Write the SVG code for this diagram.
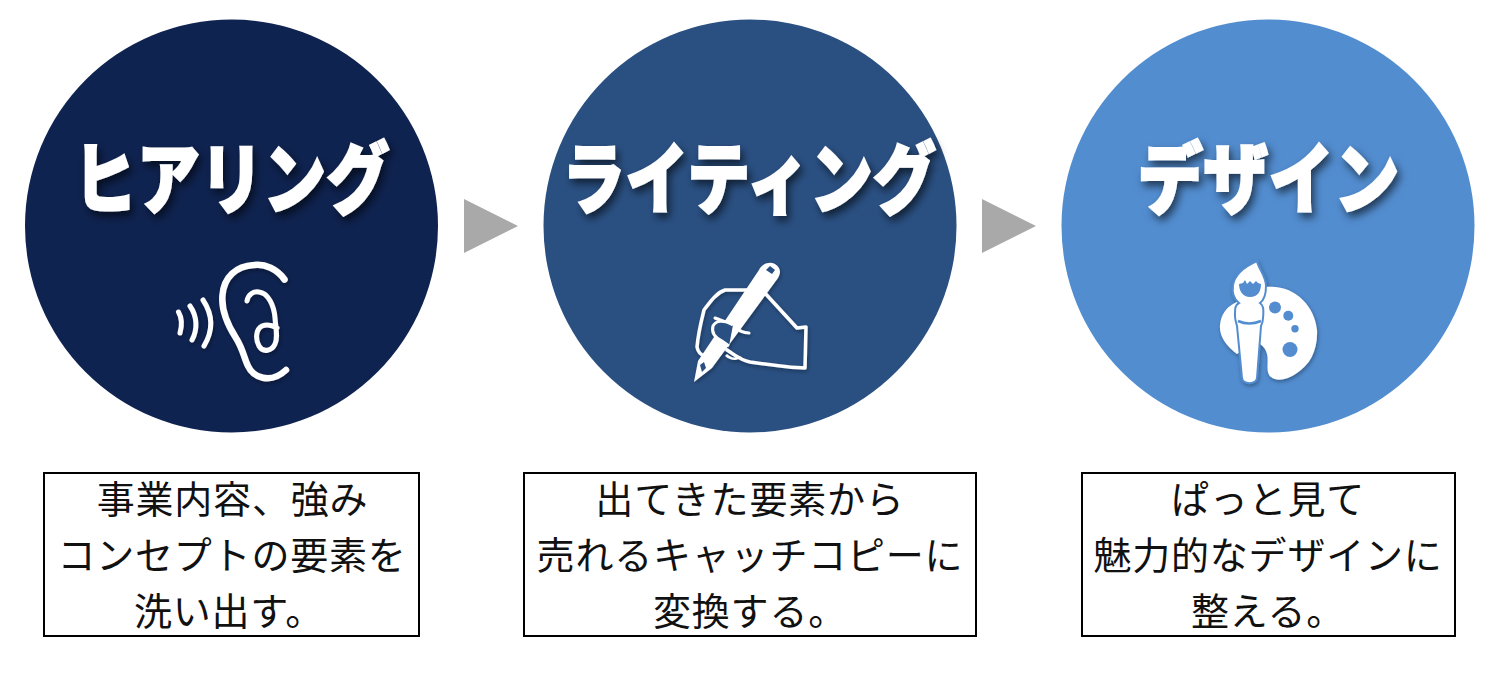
<svg xmlns="http://www.w3.org/2000/svg" width="1500" height="681" viewBox="0 0 1500 681">
<style>
.title{font-family:"Noto Sans CJK JP","Noto Sans",sans-serif;font-weight:900;font-size:78px;fill:#fff;text-anchor:middle;stroke:#fff;stroke-width:2px}
.body{font-family:"Noto Sans CJK JP","Noto Sans",sans-serif;font-weight:400;font-size:38px;letter-spacing:.8px;fill:#111;text-anchor:middle}
.box{fill:#fff;stroke:#000;stroke-width:2}
.tri{fill:#a9a9a9}
.ln{fill:none;stroke:#fff;stroke-linecap:round;stroke-linejoin:round}
</style>
<defs>
<filter id="sh" x="-20%" y="-20%" width="140%" height="150%"><feDropShadow dx="3" dy="5" stdDeviation="4" flood-color="#000" flood-opacity="0.6"/></filter>
<filter id="sh2" x="-20%" y="-20%" width="140%" height="140%"><feDropShadow dx="1" dy="2" stdDeviation="2" flood-color="#000" flood-opacity="0.35"/></filter>
</defs>
<g id="connectors">
<polygon class="tri" points="464,199 518,226 464,253"/>
<polygon class="tri" points="982,199 1036,226 982,253"/>
</g>
<g id="node-hearing">
<circle cx="231.500" cy="226" r="206.500" fill="#0f2350"/>
<g filter="url(#sh)"><text class="title" transform="translate(231.500 208) scale(.81 1)">ヒアリング</text></g>
<g filter="url(#sh2)">
<path class="ln" stroke-width="6.500" stroke-linecap="butt" d="M284.500 279.500C277 269 265 263.500 254 265C236 266 224 277 222.500 295C221 310 229 327 236 338C243 349 244 358 248 366C253 377 270 385 286 370"/>
<path class="ln" stroke-width="5" d="M247 301C248 294 254 291 259 292C268 293 274 305 275 318C276 330 278 338 275 344C272 351 263 353 259 346C255 339 256 329 262 326C267 324 272 325 277 328"/>
<path class="ln" stroke-width="5" d="M178.500 312C182 318 182 326 180 333"/>
<path class="ln" stroke-width="5" d="M190 306C197 316 198 329 192 340"/>
<path class="ln" stroke-width="5" d="M203 300C213 315 213 331 204 346"/>
</g>
</g>
<g id="node-writing">
<circle cx="750" cy="226" r="206.500" fill="#2a5082"/>
<g filter="url(#sh)"><text class="title" transform="translate(749 208) scale(.81 1)">ライティング</text></g>
<g filter="url(#sh2)">
<path class="ln" stroke-width="3.500" d="M763 291L797 328L806 327L805 368C790 368 770 365 750 362C740 360 735 355 727 350M752 290L725 290C716 293 710 302 704 310C701 322 698 335 697 347C698 352 701 355 705 356"/>
<path d="M694 382L698 361L759 270C762 264 769 261 775 264C781 268 781 273 778 278L712 368Z" fill="#fff"/>
<path d="M766 270L770 266L775 270L772 274Z" fill="#2a5082"/>
<path d="M700 365L704 362L706 368L702 372Z" fill="#2a5082"/>
<path d="M715 318C722 321 728 322 733 326C740 331 743 333 749 333" fill="none" stroke="#fff" stroke-width="3" stroke-linecap="round"/>
<path d="M733 325C724 320 716 320 713 326C711 333 716 338 722 341L729 346" fill="#2a5082" stroke="#fff" stroke-width="3"/>
<path d="M726 349C731 352 735 357 741 358M726 355C729 358 734 360 738 358" fill="none" stroke="#fff" stroke-width="2.500"/>
</g>
</g>
<g id="node-design">
<circle cx="1268" cy="226" r="206.500" fill="#528dd0"/>
<g filter="url(#sh)"><text class="title" transform="translate(1268.500 208) scale(.84 1)">デザイン</text></g>
<g filter="url(#sh2)">
<path fill="#fff" fill-rule="evenodd" d="M1266 287C1294 284 1315 306 1317 330C1318 350 1310 365 1297 373C1287 380 1277 382 1271 377C1265 372 1269 362 1267 354C1265 346 1260 344 1256 342L1237 354C1226 346 1219 336 1220 325C1221 315 1226 308 1233 304Z"/>
<g fill="#528dd0"><circle cx="1275" cy="307.500" r="6"/><circle cx="1288.300" cy="315.700" r="5"/><circle cx="1295" cy="328.700" r="3.700"/><circle cx="1290" cy="349.500" r="7.500"/></g>
<path fill="#fff" stroke="#528dd0" stroke-width="2" d="M1257 261C1258 268 1266 276 1266 286C1266 294 1264 300 1260 303C1263 305 1264 308 1263 318C1263 322 1262 324 1261 326L1257 378C1256 385 1243 385 1242 378L1237 326C1236 322 1235 320 1235 316C1235 308 1235 305 1239 303C1234 299 1232 292 1233 285C1235 273 1248 265 1257 261Z"/>
<path fill="#528dd0" d="M1239 284L1243 283L1245 280L1247 284L1250 281L1253 284L1256 281L1258 283L1261 284C1261 291 1258 297 1250 297C1243 297 1239 291 1239 284Z"/>
<path d="M1238 321Q1249 326 1261 321" fill="none" stroke="#528dd0" stroke-width="2.500"/>
</g>
</g>
<g id="desc-hearing">
<rect class="box" x="44" y="473" width="375" height="163"/>
<text class="body" x="232.500" y="513">事業内容、強み</text>
<text class="body" x="232" y="569">コンセプトの要素を</text>
<text class="body" x="229" y="625">洗い出す。</text>
</g>
<g id="desc-writing">
<rect class="box" x="524" y="473" width="452" height="163"/>
<text class="body" x="750" y="513">出てきた要素から</text>
<text class="body" x="750" y="569">売れるキャッチコピーに</text>
<text class="body" x="750" y="625">変換する。</text>
</g>
<g id="desc-design">
<rect class="box" x="1082" y="473" width="373" height="163"/>
<text class="body" x="1268" y="513">ぱっと見て</text>
<text class="body" x="1268" y="569">魅力的なデザインに</text>
<text class="body" x="1268" y="625">整える。</text>
</g>
</svg>
